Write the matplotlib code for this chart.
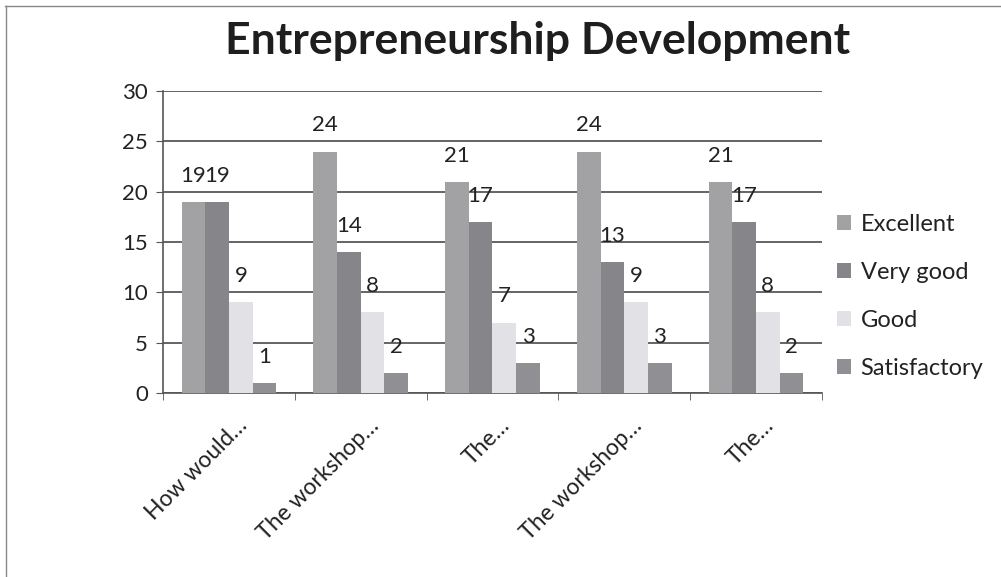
import matplotlib.pyplot as plt
import matplotlib.transforms as mtransforms
import numpy as np

plt.rcParams['font.family'] = ['Lato', 'DejaVu Sans']

# Data
categories = ['How would…', 'The workshop…', 'The…', 'The workshop…', 'The…']
series_names = ['Excellent', 'Very good', 'Good', 'Satisfactory']
excellent = [19, 24, 21, 24, 21]
very_good = [19, 14, 17, 13, 17]
good = [9, 8, 7, 9, 8]
satisfactory = [1, 2, 3, 3, 2]
series = [excellent, very_good, good, satisfactory]
colors = ['#a2a2a4', '#85858a', '#e2e2e6', '#909094']

fig = plt.figure(figsize=(10.01, 5.77), dpi=100)
ax = fig.add_axes([0.163, 0.319, 0.658, 0.523])

x = np.arange(len(categories))
width = 0.18
for i, (name, vals) in enumerate(zip(series_names, series)):
    pos = x + (i - 1.5) * width
    ax.bar(pos, vals, width, color=colors[i], label=name, zorder=3)
    for p, v in zip(pos, vals):
        ax.text(p, v + 2.6, str(v), ha='center', va='center', fontsize=16, color='#222222', zorder=4)

ax.set_xlim(-0.5, len(categories) - 0.5)
ax.set_ylim(0, 30)
ax.set_yticks(range(0, 31, 5))
ax.yaxis.grid(True, color='#3a3a3a', linewidth=1.1, zorder=0)
ax.set_axisbelow(True)

# category labels, rotated, ending just right of each category centre
ax.set_xticks(x)
ax.set_xticklabels([''] * len(categories))
offset = mtransforms.ScaledTranslation(0.07, -0.22, fig.dpi_scale_trans)
for xi, cat in zip(x, categories):
    ax.text(xi, 0, cat, transform=ax.get_xaxis_transform() + offset, rotation=45,
            ha='right', va='top', rotation_mode='anchor', fontsize=16.5, color='#222222')
ax.set_xticks(np.arange(-0.5, len(categories)), minor=True)
ax.tick_params(axis='x', which='major', length=0)
ax.tick_params(axis='x', which='minor', length=5, color='#555555')
ax.tick_params(axis='y', length=5, color='#555555', labelsize=16, labelcolor='#222222', pad=6)

for s in ['top', 'right']:
    ax.spines[s].set_visible(False)
for s in ['left', 'bottom']:
    ax.spines[s].set_color('#555555')
    ax.spines[s].set_linewidth(1.2)

fig.text(0.537, 0.906, 'Entrepreneurship Development', ha='center', va='baseline',
         fontsize=32, fontweight='bold', color='#1e1e1e')

fig.legend(loc='center left', bbox_to_anchor=(0.815, 0.486), frameon=False, fontsize=17,
           handlelength=0.6, handleheight=0.6, handletextpad=0.4, labelspacing=1.15,
           labelcolor='#222222')

# scanned chart border (top and left edges)
fig.add_artist(plt.Line2D([0.005, 1.0], [0.99, 0.99], color='#888888', linewidth=1))
fig.add_artist(plt.Line2D([0.006, 0.006], [0.0, 0.99], color='#888888', linewidth=1))

fig.savefig('out.png', dpi=100)
